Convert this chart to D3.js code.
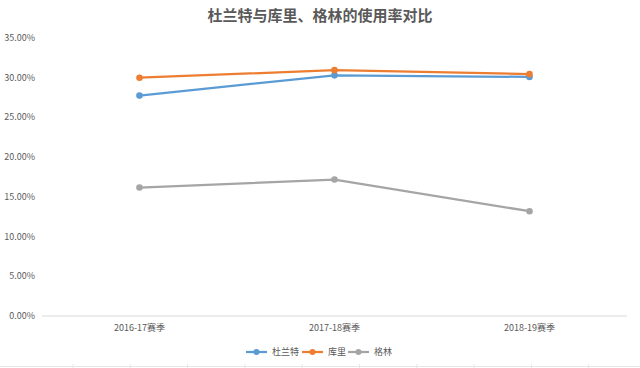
<!DOCTYPE html>
<html>
<head>
<meta charset="utf-8">
<script src="https://cdn.jsdelivr.net/npm/d3@7"></script>
<style>
  body { margin: 0; background: #fff; }
  svg text { font-family: "Noto Sans CJK SC", "Microsoft YaHei", sans-serif; }
  .tick-label { font-size: 9px; fill: #595959; }
  .chart-title { font-size: 15px; font-weight: bold; fill: #595959; }
</style>
</head>
<body>
<div id="chart"></div>
<script>
// data
const seasons = ['2016-17赛季', '2017-18赛季', '2018-19赛季'];
const durant = [0.2775, 0.303, 0.301];
const curry = [0.300, 0.3095, 0.3045];
const green = [0.1617, 0.1718, 0.1319];
const yTicks = [0, 0.05, 0.10, 0.15, 0.20, 0.25, 0.30, 0.35];

const series = [
    { name: '杜兰特', values: durant, color: '#5B9BD5' },
    { name: '库里', values: curry, color: '#ED7D31' },
    { name: '格林', values: green, color: '#A5A5A5' }
];

const width = 640, height = 368;

const svg = d3.select('#chart').append('svg')
    .attr('width', width)
    .attr('height', height);

svg.append('text')
    .attr('class', 'chart-title')
    .attr('x', 320)
    .attr('y', 21)
    .attr('text-anchor', 'middle')
    .text('杜兰特与库里、格林的使用率对比');

let x = d3.scalePoint()
    .domain(seasons)
    .range([42, 627])
    .padding(0.5);

let y = d3.scaleLinear()
    .domain([0, 0.35])
    .range([316, 38]);

// y labels (no gridlines in the original)
svg.selectAll('.y-label')
    .data(yTicks)
    .enter()
    .append('text')
    .attr('class', 'tick-label y-label')
    .attr('x', 35)
    .attr('y', d => y(d) + 3)
    .attr('text-anchor', 'end')
    .text(d => d3.format('.2%')(d));

// category axis
svg.append('line')
    .attr('x1', 42).attr('x2', 627)
    .attr('y1', y(0)).attr('y2', y(0))
    .attr('stroke', '#d9d9d9')
    .attr('stroke-width', 1);

svg.selectAll('.x-label')
    .data(seasons)
    .enter()
    .append('text')
    .attr('class', 'tick-label x-label')
    .attr('x', d => x(d))
    .attr('y', 331)
    .attr('text-anchor', 'middle')
    .text(d => d);

let line = d3.line()
    .x((d, i) => x(seasons[i]))
    .y(d => y(d));

series.forEach(s => {
    let g = svg.append('g');
    g.append('path')
        .attr('d', line(s.values))
        .attr('fill', 'none')
        .attr('stroke', s.color)
        .attr('stroke-width', 2.25)
        .attr('stroke-linejoin', 'round');
    g.selectAll('circle')
        .data(s.values)
        .enter()
        .append('circle')
        .attr('cx', (d, i) => x(seasons[i]))
        .attr('cy', d => y(d))
        .attr('r', 3.3)
        .attr('fill', s.color);
});

// legend
let legendX = [246, 302, 348];
let legend = svg.selectAll('.legend')
    .data(series)
    .enter()
    .append('g')
    .attr('class', 'legend')
    .attr('transform', (d, i) => 'translate(' + legendX[i] + ',352)');

legend.append('line')
    .attr('x1', 0).attr('x2', 21)
    .attr('stroke', d => d.color)
    .attr('stroke-width', 2.25);
legend.append('circle')
    .attr('cx', 10.5)
    .attr('r', 3)
    .attr('fill', d => d.color);
legend.append('text')
    .attr('class', 'tick-label')
    .attr('x', 26)
    .attr('y', 3)
    .text(d => d.name);

// faint sheet border at the bottom edge
svg.append('line')
    .attr('x1', 0).attr('x2', width)
    .attr('y1', 366.5).attr('y2', 366.5)
    .attr('stroke', '#e6e6e6');
d3.range(73, width, 57.3).forEach(t => {
    svg.append('line')
        .attr('x1', t).attr('x2', t)
        .attr('y1', 364).attr('y2', 368)
        .attr('stroke', '#e6e6e6');
});
</script>
</body>
</html>
